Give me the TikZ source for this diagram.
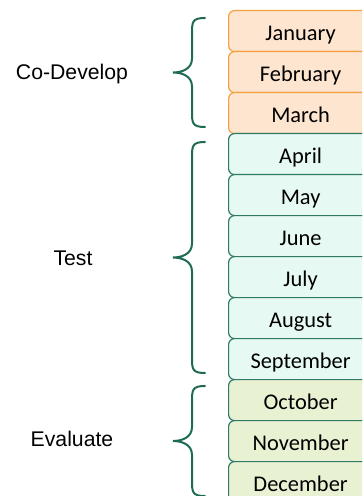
\documentclass[tikz,border=0pt]{standalone}
\usepackage{fontspec}
\setmainfont{Carlito}
\newfontfamily\labelfont{Liberation Sans}
\definecolor{orangeline}{HTML}{F5A040}
\definecolor{orangefill}{HTML}{FDE5CF}
\definecolor{tealline}{HTML}{2F7A66}
\definecolor{tealfill}{HTML}{E6F9F3}
\definecolor{greenfill}{HTML}{E9F1D3}
\definecolor{bracecol}{HTML}{1E6B55}
\tikzset{
  monthbox/.style={draw, line width=1.2bp, rounded corners=6bp, anchor=north west,
    minimum width=144bp, minimum height=41bp, inner sep=0pt,
    text height=19bp, text depth=0bp,
    font=\fontsize{22.5}{26}\selectfont},
  q1/.style={monthbox, draw=orangeline, fill=orangefill},
  q2/.style={monthbox, draw=tealline, fill=tealfill},
  q3/.style={monthbox, draw=tealline, fill=greenfill},
  phase/.style={font=\labelfont\fontsize{21.3}{24}\selectfont, text=black},
  bracestyle/.style={draw=bracecol, line width=2bp, line cap=round},
}
% curly brace from (x_end, top) to (x_end, bottom), tip at x_tip
\newcommand{\phasebrace}[4]{% #1 top, #2 bottom, #3 x end, #4 x tip
  \pgfmathsetmacro{\bmid}{(#1+#2)/2}
  \pgfmathsetmacro{\bstem}{#3-13}
  \draw[bracestyle]
    (#3,-#1) .. controls (\bstem,-#1) and (\bstem,-#1-4) .. (\bstem,-#1-16)
    -- (\bstem,-\bmid+14) .. controls (\bstem,-\bmid+3) and (#4+8,-\bmid) .. (#4,-\bmid)
    .. controls (#4+8,-\bmid) and (\bstem,-\bmid-3) .. (\bstem,-\bmid-14)
    -- (\bstem,-#2+16) .. controls (\bstem,-#2+4) and (\bstem,-#2) .. (#3,-#2);
}
\begin{document}
\begin{tikzpicture}[x=1bp, y=1bp]
\useasboundingbox (0,0) rectangle (362,-496);
\clip (0,0) rectangle (362,-496);

% months
\node[q1] (jan) at (228,-10)  {January};
\node[q1] (feb) at (228,-51)  {February};
\node[q1] (mar) at (228,-92)  {March};
\node[q2] (apr) at (228,-133) {April};
\node[q2] (may) at (228,-174) {May};
\node[q2] (jun) at (228,-215) {June};
\node[q2] (jul) at (228,-256) {July};
\node[q2] (aug) at (228,-297) {August};
\node[q2] (sep) at (228,-338) {September};
\node[q3] (oct) at (228,-379) {October};
\node[q3] (nov) at (228,-420) {November};
\node[q3] (dec) at (228,-461) {December};

% braces
\phasebrace{18}{127}{205}{173}
\phasebrace{142}{373}{205}{173}
\phasebrace{386}{496}{205}{173}

% phase labels
\node[phase] (codev) at (72,-74)  {Co-Develop};
\node[phase] (test)  at (73,-258) {Test};
\node[phase] (eval)  at (72,-439) {Evaluate};
\end{tikzpicture}
\end{document}
